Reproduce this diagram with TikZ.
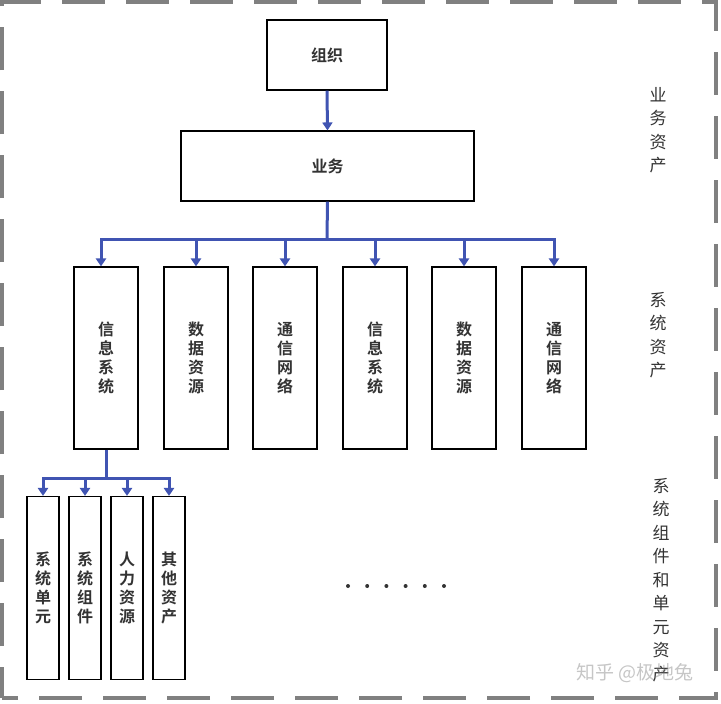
\documentclass[tikz,border=0pt]{standalone}
\usepackage{fontspec}
\setmainfont{Noto Sans CJK SC}
\newfontfamily\cjk{Noto Sans CJK SC}
\newfontfamily\cjkb{Noto Sans CJK SC Bold}
\usetikzlibrary{arrows.meta,calc}
\definecolor{lineblue}{RGB}{64,84,178}
\definecolor{bordergray}{RGB}{128,128,128}
\definecolor{txt}{RGB}{51,51,51}
\tikzset{
  box/.style={draw=black, line width=1.1pt, fill=white, inner sep=0pt, text=txt, font=\cjkb\fontsize{16}{19}\selectfont, align=center},
  conn/.style={draw=lineblue, line width=3pt},
  arr/.style={conn, -{Triangle[width=10pt,length=8pt]}},
  sidelabel/.style={text=txt, font=\cjk\fontsize{17}{23.5}\selectfont, align=center, inner sep=0pt},
  vdot/.style={circle, fill=txt, inner sep=0pt, minimum size=4pt}
}
\begin{document}
\begin{tikzpicture}[x=1pt,y=-1pt]
\useasboundingbox (0,0) rectangle (721,704);
% dashed frame
\draw[bordergray, line width=4pt, dash pattern=on 43pt off 21pt, dash phase=12pt] (2,698) -- (2,2) -- (716,2) -- (716,698) -- cycle;

% top boxes
\node[box, minimum width=120pt, minimum height=70pt] (org) at (327,55) {组织};
\node[box, minimum width=293pt, minimum height=70pt] (biz) at (327.5,166) {业务};
\draw[arr] (org.south) -- (biz.north);

% level 2
\foreach \n/\x/\t in {c1/106/信\\息\\系\\统, c2/196/数\\据\\资\\源, c3/285/通\\信\\网\\络, c4/375/信\\息\\系\\统, c5/464/数\\据\\资\\源, c6/554/通\\信\\网\\络}{
  \node[box, minimum width=64pt, minimum height=182pt] (\n) at (\x,358) {\t};
}
\coordinate (bus) at (327,239);
\coordinate (busL) at (101,239);
\draw[conn] (biz.south) -- (bus);
\draw[conn, line cap=rect] (busL) -- (c6.north |- bus);
\draw[arr] (busL) -- (busL |- c1.north);
\foreach \n in {c2,c3,c4,c5,c6}{
  \draw[arr] (\n.north |- bus) -- (\n.north);
}

% level 3
\foreach \n/\x/\t in {d1/43/系\\统\\单\\元, d2/85/系\\统\\组\\件, d3/127/人\\力\\资\\源, d4/169/其\\他\\资\\产}{
  \node[box, minimum width=32pt, minimum height=183pt] (\n) at (\x,588) {\t};
}
\coordinate (bus2) at (106,478);
\draw[conn] (c1.south) -- (bus2);
\draw[conn, line cap=rect] (d1.north |- bus2) -- (d4.north |- bus2);
\foreach \n in {d1,d2,d3,d4}{
  \draw[arr] (\n.north |- bus2) -- (\n.north);
}

% ellipsis
\foreach \i in {0,...,5}{
  \node[vdot] (dot\i) at (348+19.2*\i,586) {};
}

% side labels
\node[sidelabel] (lab1) at (658,130) {业\\务\\资\\产};
\node[sidelabel] (lab2) at (658,335) {系\\统\\资\\产};
\node[sidelabel] (lab3) at (661,580) {系\\统\\组\\件\\和\\单\\元\\资\\产};

% watermark
\node[text=gray, opacity=0.45, font=\cjk\fontsize{19}{19}\selectfont, inner sep=0pt] (wm) at (635,673) {知乎 @极地兔};
\end{tikzpicture}
\end{document}
